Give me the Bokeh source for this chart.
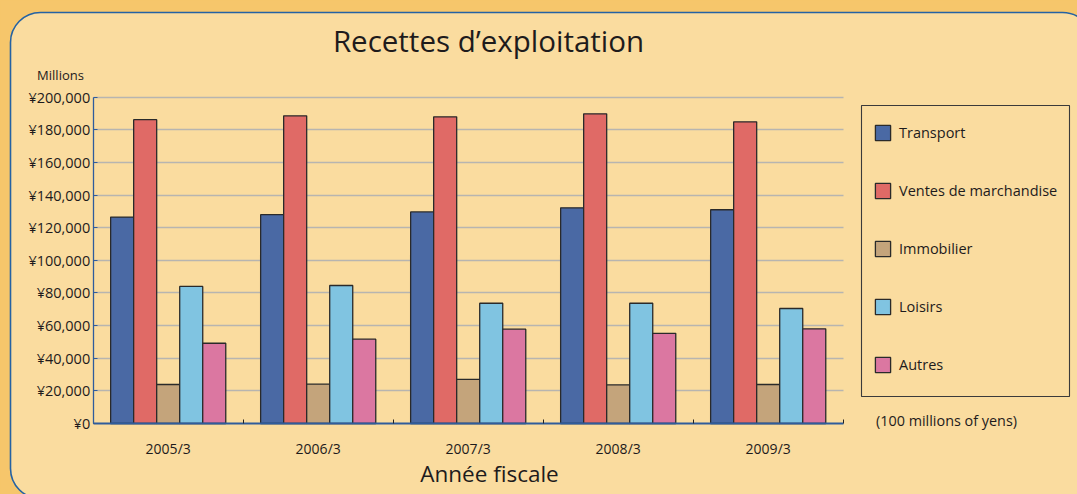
from bokeh.plotting import figure
from bokeh.models import (Range1d, FixedTicker, Label, BoxAnnotation, Legend, LegendItem)
from bokeh.embed import file_html
from bokeh.resources import INLINE

# ---------------- data ----------------
categories = ["2005/3", "2006/3", "2007/3", "2008/3", "2009/3"]
series_names = ["Transport", "Ventes de marchandise", "Immobilier", "Loisirs", "Autres"]
transport = [126500, 128000, 129700, 132200, 131000]
ventes = [186200, 188600, 188000, 189800, 184900]
immobilier = [23900, 24100, 27100, 23700, 23900]
loisirs = [84000, 84600, 73700, 73700, 70500]
autres = [49200, 51700, 57800, 55300, 58000]
y_ticks = list(range(0, 200001, 20000))
y_tick_labels = ["¥{:,}".format(t) for t in y_ticks]

series_values = [transport, ventes, immobilier, loisirs, autres]
colors = ["#4A69A4", "#E06A66", "#C4A47B", "#80C4E1", "#DB77A1"]

OUTER = "#F6C66B"
INNER = "#FADC9F"
PANEL_LINE = "#2462A3"
AXIS_BLUE = "#2F5C9C"
TXT = "#1E1B1C"
FONT = "Open Sans"

W, H = 1077, 494
YMAX = 200000
NCAT = len(categories)
# pixel placement of the plotting area inside the canvas
X0, X1 = 92.7, 842.7      # x = 0 and x = NCAT
Y0, Y1 = 423.0, 96.7      # y = 0 and y = YMAX
XPX = (X1 - X0) / NCAT
YPX = (Y0 - Y1) / YMAX

p = figure(width=W, height=H, output_backend="svg", toolbar_location=None,
           x_range=Range1d(-X0 / XPX, (W - X0) / XPX),
           y_range=Range1d(-(H - Y0) / YPX, Y0 / YPX),
           min_border=0, min_border_left=0, min_border_right=0,
           min_border_top=0, min_border_bottom=0)
p.background_fill_color = OUTER
p.border_fill_color = OUTER
p.outline_line_color = None


def dx(px):
    return (px - X0) / XPX


def dy(py):
    return (Y0 - py) / YPX


# rounded panel
panel = BoxAnnotation(left=dx(10), right=dx(1092), top=dy(12), bottom=dy(498),
                      fill_color=INNER, fill_alpha=1.0, line_color=PANEL_LINE,
                      line_alpha=1.0, line_dash="solid",
                      line_width=1.6, border_radius=30, level="image")
p.add_layout(panel)

# bars
n = len(series_names)
bw = 0.1535
items = []
for k, (name, vals, c) in enumerate(zip(series_names, series_values, colors)):
    xs = [i + 0.5 + (k - (n - 1) / 2) * bw for i in range(NCAT)]
    r = p.vbar(x=xs, top=vals, width=bw, bottom=0, fill_color=c,
               line_color="#2A2A2A", line_width=1.3)
    items.append(LegendItem(label=name, renderers=[r]))

# axes
p.xaxis.fixed_location = 0
p.xaxis.bounds = (0, NCAT)
p.xaxis.ticker = FixedTicker(ticks=[i + 0.5 for i in range(NCAT)],
                             minor_ticks=list(range(NCAT + 1)))
p.xaxis.major_label_overrides = {i + 0.5: c for i, c in enumerate(categories)}
p.xaxis.major_tick_line_color = None
p.xaxis.minor_tick_in = 4
p.xaxis.minor_tick_out = 0
p.xaxis.minor_tick_line_color = "#222222"
p.xaxis.axis_line_color = AXIS_BLUE
p.xaxis.axis_line_width = 2
p.xaxis.major_label_standoff = 9
p.xaxis.major_label_text_font = FONT
p.xaxis.major_label_text_font_size = "14px"
p.xaxis.major_label_text_color = TXT

p.yaxis.fixed_location = 0
p.yaxis.bounds = (0, YMAX)
p.yaxis.ticker = FixedTicker(ticks=y_ticks, minor_ticks=[])
p.yaxis.major_label_overrides = {t: l for t, l in zip(y_ticks, y_tick_labels)}
p.yaxis.major_tick_in = 4
p.yaxis.major_tick_out = 0
p.yaxis.major_tick_line_color = AXIS_BLUE
p.yaxis.axis_line_color = AXIS_BLUE
p.yaxis.axis_line_width = 1.3
p.yaxis.major_label_standoff = 3
p.yaxis.major_label_text_font = FONT
p.yaxis.major_label_text_font_size = "14.5px"
p.yaxis.major_label_text_color = TXT

p.xgrid.visible = False
p.ygrid.ticker = FixedTicker(ticks=y_ticks[1:], minor_ticks=[])
p.ygrid.grid_line_color = "#B7B5B0"
p.ygrid.grid_line_width = 1.6
p.ygrid.cross_bounds = (0, NCAT)

# legend frame
lbox = BoxAnnotation(left=dx(861), right=dx(1069), top=dy(105), bottom=dy(396),
                     fill_alpha=0, line_color="#3A3A3A", line_alpha=1.0,
                     line_dash="solid", line_width=1.1)
p.add_layout(lbox)

legend = Legend(items=items, location=(873, H - 374), padding=0, margin=0,
                spacing=39, glyph_width=19, glyph_height=19, label_height=19,
                label_standoff=7, border_line_color=None, background_fill_alpha=0,
                label_text_font=FONT, label_text_font_size="14.5px",
                label_text_color=TXT)
p.add_layout(legend)


def lab(text, px, py, size, align="center"):
    p.add_layout(Label(x=dx(px), y=dy(py), x_units="data", y_units="data", text=text,
                       text_font=FONT, text_font_size=size, text_color=TXT,
                       text_align=align, text_baseline="middle"))


lab("Recettes d\u2019exploitation", 488, 40, "29.5px")
lab("Année fiscale", 489, 473, "22.5px")
lab("Millions", 60, 74, "13px")
lab("(100 millions of yens)", 946, 420, "14.4px")

html = file_html(p, INLINE).replace("<body>", '<body style="background-color:%s">' % OUTER)
open("out.html", "w").write(html)
